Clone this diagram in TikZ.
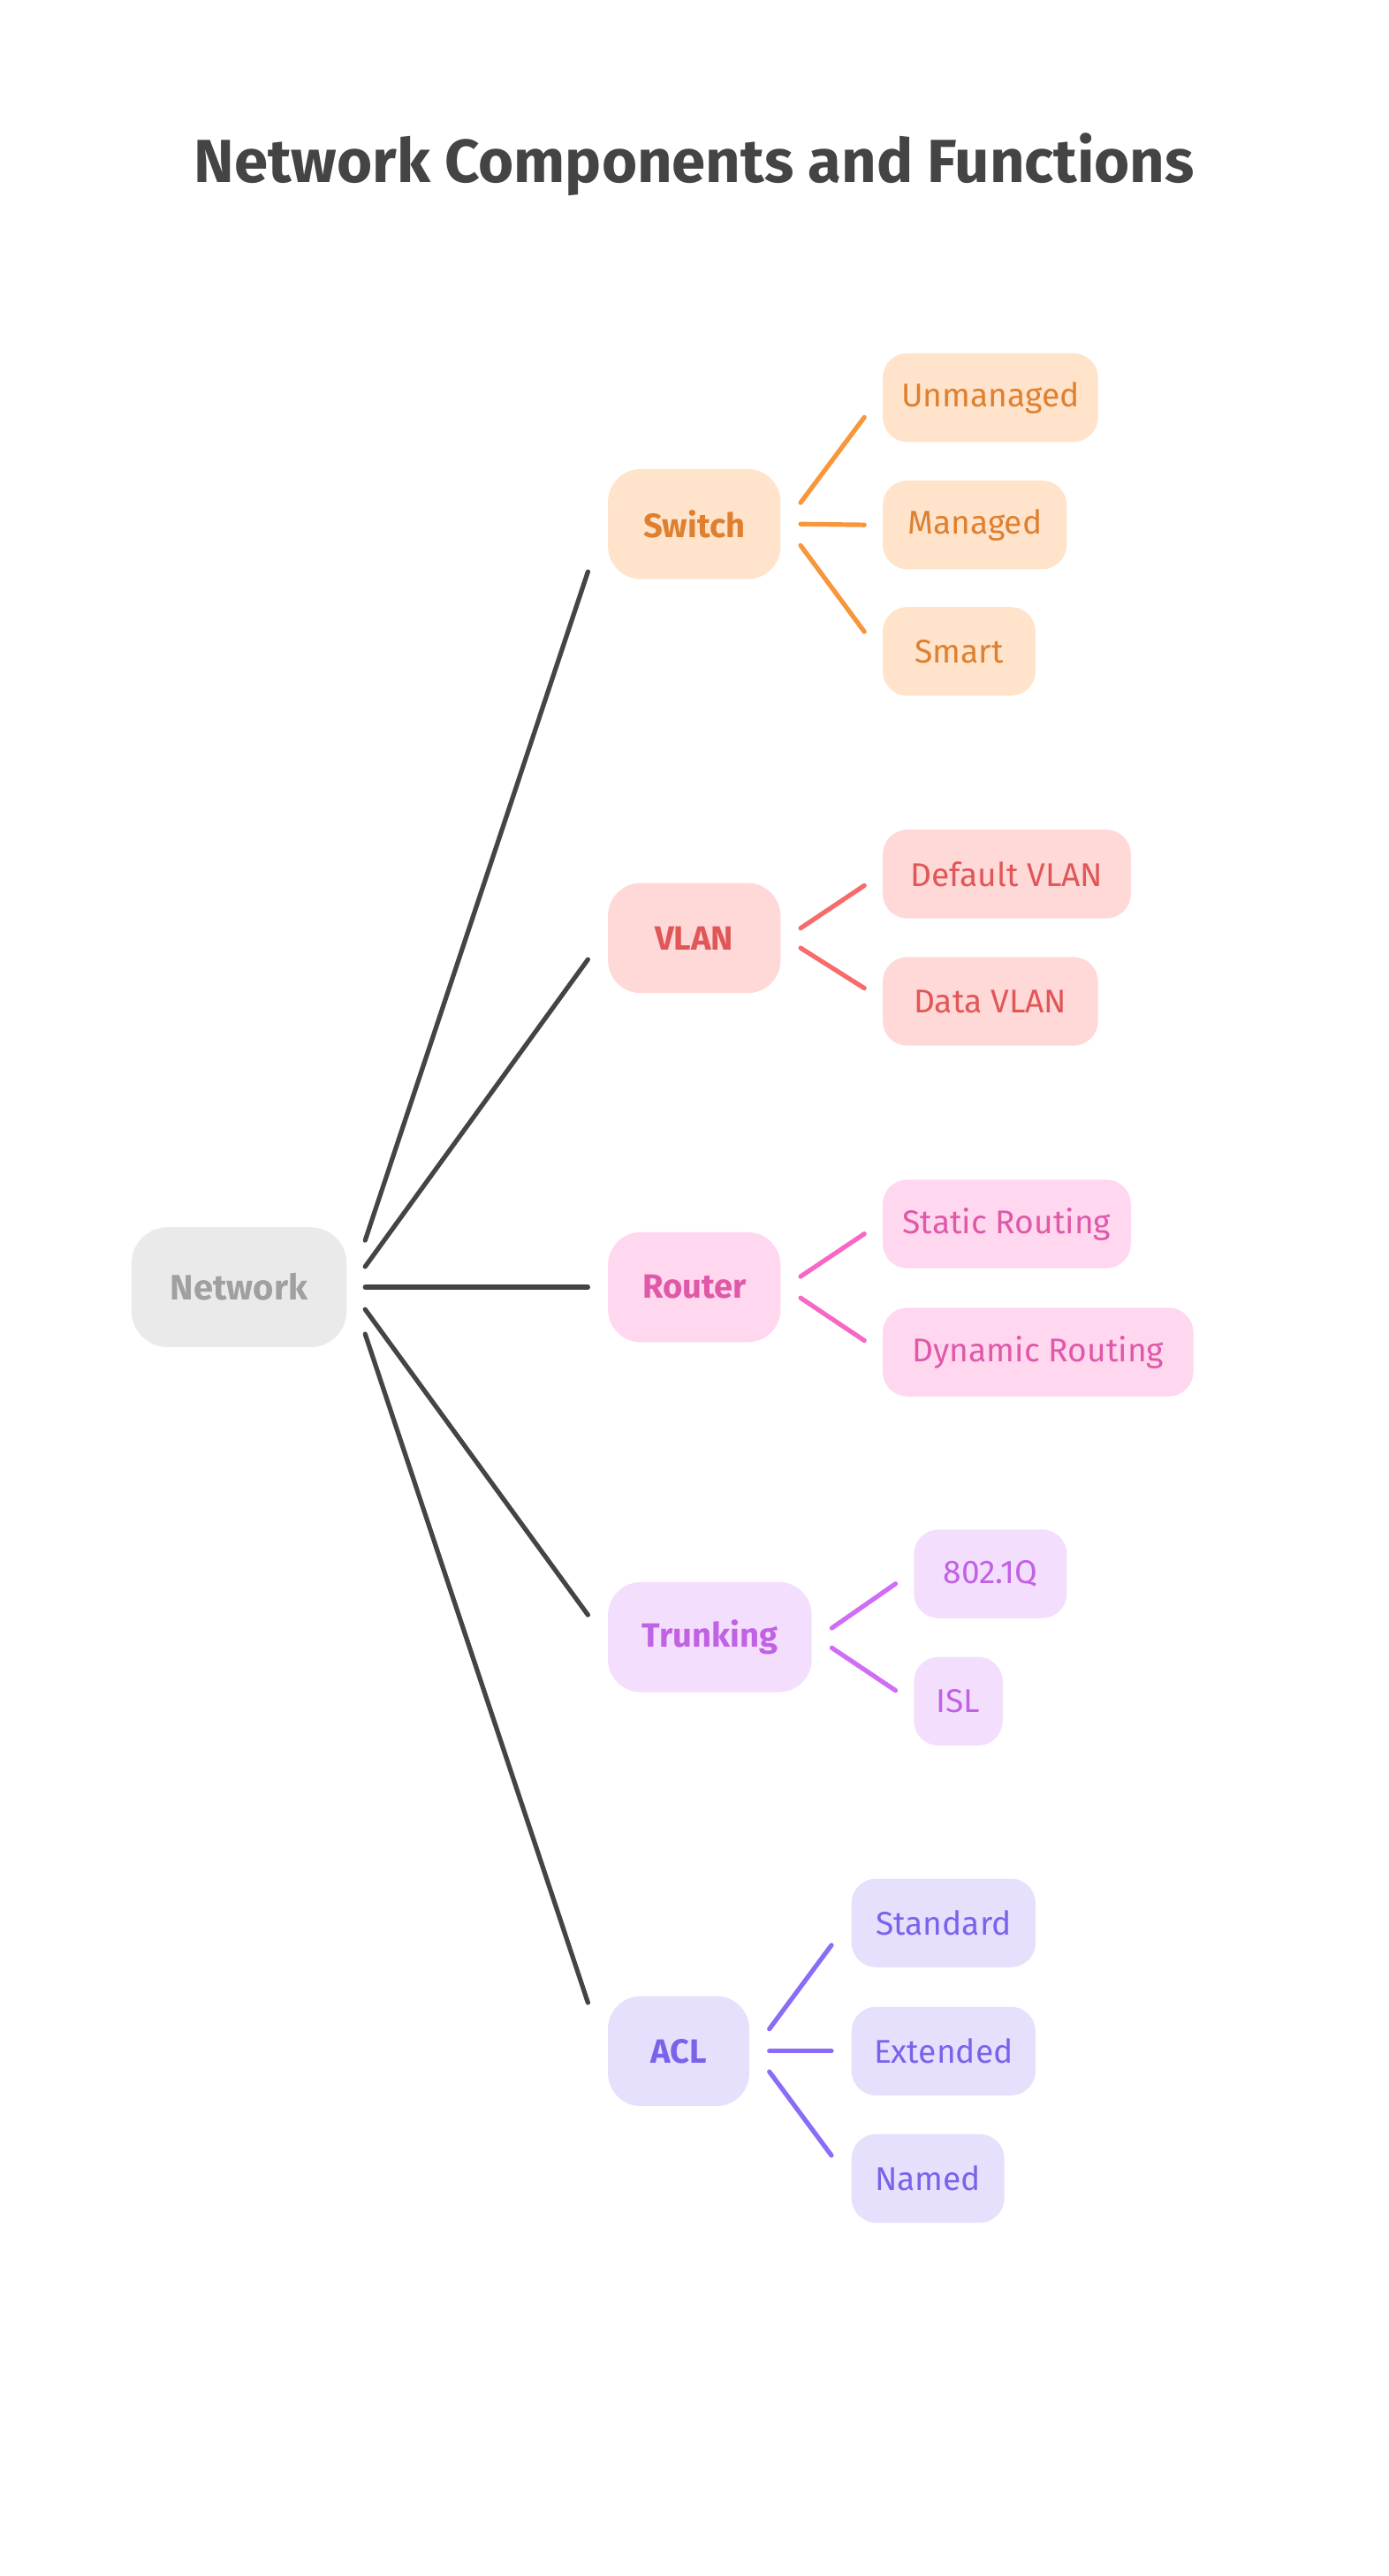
\documentclass[tikz,border=0pt]{standalone}
\usepackage{fontspec}
\setmainfont{Fira Sans}
\usetikzlibrary{calc}

\definecolor{ink}{HTML}{444444}
\definecolor{rootfill}{HTML}{EAEAEA}
\definecolor{roottext}{HTML}{A0A0A0}
\definecolor{orfill}{HTML}{FFE3CB}
\definecolor{ortext}{HTML}{DE8030}
\definecolor{orline}{HTML}{F7963A}
\definecolor{rdfill}{HTML}{FFD8D8}
\definecolor{rdtext}{HTML}{E05757}
\definecolor{rdline}{HTML}{F76B6B}
\definecolor{pkfill}{HTML}{FFD7EE}
\definecolor{pktext}{HTML}{E058A8}
\definecolor{pkline}{HTML}{F768C4}
\definecolor{pufill}{HTML}{F4DEFD}
\definecolor{putext}{HTML}{C062E3}
\definecolor{puline}{HTML}{D06CF5}
\definecolor{vifill}{HTML}{E6E0FD}
\definecolor{vitext}{HTML}{7C62EA}
\definecolor{viline}{HTML}{8A6CF7}

\tikzset{
  rootbox/.style={rounded corners=22pt, fill=rootfill, text=roottext,
    font=\fontsize{21.5}{25}\selectfont\bfseries, minimum height=73pt, inner sep=0pt},
  topicbox/.style={rounded corners=20pt, minimum height=67pt, inner sep=0pt,
    font=\fontsize{20.5}{24}\selectfont\bfseries},
  leafbox/.style={rounded corners=15pt, minimum height=54pt, inner sep=0pt,
    anchor=west, font=\fontsize{20}{24}\selectfont},
  link/.style={line width=2.8pt, line cap=round},
  orange/.style={fill=orfill, text=ortext},
  red/.style={fill=rdfill, text=rdtext},
  pink/.style={fill=pkfill, text=pktext},
  purple/.style={fill=pufill, text=putext},
  violet/.style={fill=vifill, text=vitext},
}

\begin{document}
\begin{tikzpicture}[x=1pt, y=-1pt]
  \useasboundingbox (0,0) rectangle (845,1568);

  % title
  \node[text=ink, font=\fontsize{37}{44}\selectfont\bfseries] (title) at (422.5,100) {Network Components and Functions};

  % root
  \node[rootbox, minimum width=131pt] (net) at (145.5,783.5) {Network};

  % first level
  \node[topicbox, orange, minimum width=105pt] (sw)  at (422.5,319)   {Switch};
  \node[topicbox, red,    minimum width=105pt] (vl)  at (422.5,571)   {VLAN};
  \node[topicbox, pink,   minimum width=105pt] (rt)  at (422.5,783.5) {Router};
  \node[topicbox, purple, minimum width=124pt] (tr)  at (432,996.5)   {Trunking};
  \node[topicbox, violet, minimum width=86pt]  (acl) at (413,1248.5)  {ACL};

  % leaves
  \node[leafbox, orange, minimum width=131pt] (unm) at (537,242)    {Unmanaged};
  \node[leafbox, orange, minimum width=112pt] (man) at (537,319.5)  {Managed};
  \node[leafbox, orange, minimum width=93pt]  (sma) at (537,396.5)  {Smart};
  \node[leafbox, red,    minimum width=151pt] (dfv) at (537,532)    {Default VLAN};
  \node[leafbox, red,    minimum width=131pt] (dtv) at (537,609.5)  {Data VLAN};
  \node[leafbox, pink,   minimum width=151pt] (str) at (537,745)    {Static Routing};
  \node[leafbox, pink,   minimum width=189pt] (dyr) at (537,823)    {Dynamic Routing};
  \node[leafbox, purple, minimum width=93pt]  (dot) at (556,958)    {802.1Q};
  \node[leafbox, purple, minimum width=54pt]  (isl) at (556,1035.5) {ISL};
  \node[leafbox, violet, minimum width=112pt] (std) at (518,1170.5) {Standard};
  \node[leafbox, violet, minimum width=112pt] (ext) at (518,1248.5) {Extended};
  \node[leafbox, violet, minimum width=93pt]  (nam) at (518,1326)   {Named};

  % root connectors
  \draw[link, ink] ([shift={(11,-28.5)}]net.east) -- ([shift={(-12,29)}]sw.west);
  \draw[link, ink] ([shift={(11,-12.5)}]net.east) -- ([shift={(-12,13)}]vl.west);
  \draw[link, ink] ([shift={(11,0)}]net.east)     -- ([shift={(-12,0)}]rt.west);
  \draw[link, ink] ([shift={(11,13.5)}]net.east)  -- ([shift={(-12,-13.5)}]tr.west);
  \draw[link, ink] ([shift={(11,28.5)}]net.east)  -- ([shift={(-12,-29.5)}]acl.west);

  % switch branch
  \draw[link, orline] ([shift={(12,-13)}]sw.east) -- ([shift={(-11,12)}]unm.west);
  \draw[link, orline] ([shift={(12,0)}]sw.east)   -- ([shift={(-11,0)}]man.west);
  \draw[link, orline] ([shift={(12,13)}]sw.east)  -- ([shift={(-11,-12)}]sma.west);

  % vlan branch
  \draw[link, rdline] ([shift={(12,-6)}]vl.east) -- ([shift={(-11,7)}]dfv.west);
  \draw[link, rdline] ([shift={(12,6)}]vl.east)  -- ([shift={(-11,-8)}]dtv.west);

  % router branch
  \draw[link, pkline] ([shift={(12,-6.5)}]rt.east) -- ([shift={(-11,6)}]str.west);
  \draw[link, pkline] ([shift={(12,6.5)}]rt.east)  -- ([shift={(-11,-7)}]dyr.west);

  % trunking branch
  \draw[link, puline] ([shift={(12,-5.5)}]tr.east) -- ([shift={(-11,6)}]dot.west);
  \draw[link, puline] ([shift={(12,6.5)}]tr.east)  -- ([shift={(-11,-6.5)}]isl.west);

  % acl branch
  \draw[link, viline] ([shift={(12,-13.5)}]acl.east) -- ([shift={(-12,13.5)}]std.west);
  \draw[link, viline] ([shift={(12,0)}]acl.east)     -- ([shift={(-12,0)}]ext.west);
  \draw[link, viline] ([shift={(12,12.5)}]acl.east)  -- ([shift={(-12,-14)}]nam.west);
\end{tikzpicture}
\end{document}
